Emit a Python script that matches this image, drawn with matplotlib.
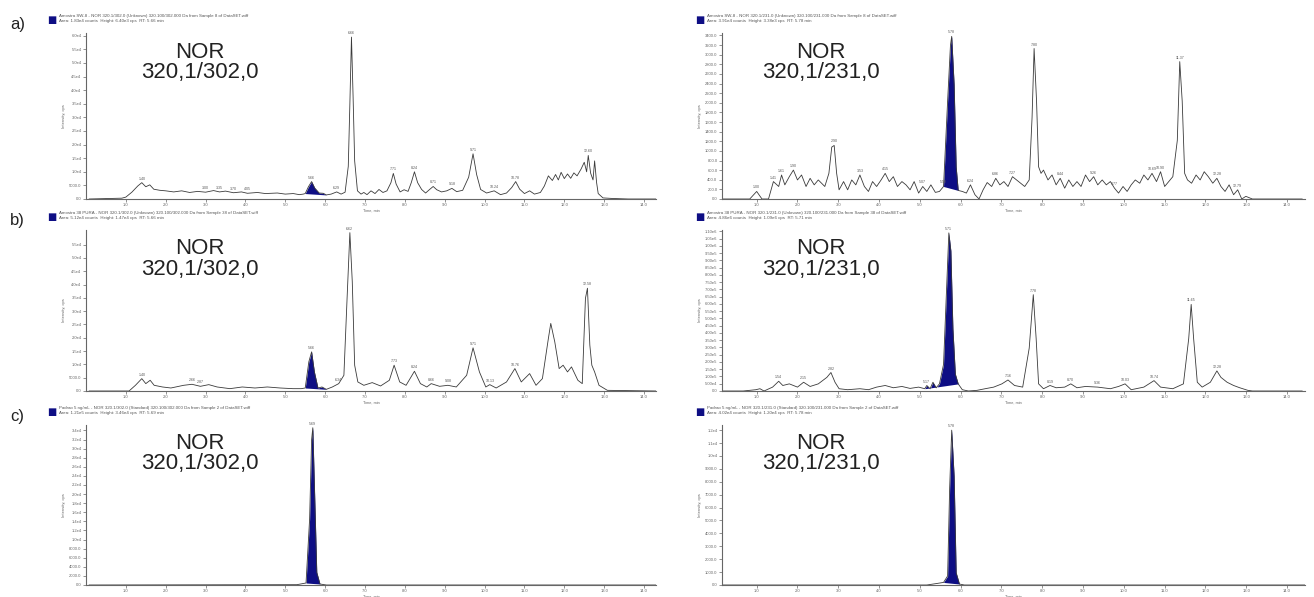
import numpy as np
import matplotlib
matplotlib.use("Agg")
import matplotlib.pyplot as plt

plt.rcParams['font.family'] = ['Liberation Sans', 'DejaVu Sans']

# ---- traces: (time in min, intensity in cps) ----
a_left = [(0.08, 0), (0.90, 300), (1.00, 700), (1.15, 2500), (1.30, 4800), (1.40, 6000),
          (1.50, 4500), (1.60, 5200), (1.70, 3600), (1.85, 3200), (2.00, 3000), (2.20, 2600),
          (2.40, 3000), (2.60, 2400), (2.80, 2800), (3.00, 2500), (3.20, 3100), (3.35, 2600),
          (3.50, 2900), (3.70, 2300), (3.90, 2600), (4.05, 2100), (4.30, 2400), (4.50, 2000),
          (4.80, 2200), (5.00, 1800), (5.20, 2000), (5.35, 1600), (5.45, 1800), (5.50, 2000),
          (5.58, 4500), (5.66, 6400), (5.74, 4000), (5.85, 2200), (5.95, 2100), (6.03, 1500),
          (6.15, 1800), (6.29, 2600), (6.40, 1800), (6.50, 2500), (6.58, 12000), (6.62, 35000),
          (6.66, 59500), (6.70, 38000), (6.74, 14000), (6.81, 3000), (6.90, 1800), (6.97, 2400),
          (7.05, 1600), (7.15, 3000), (7.25, 2000), (7.35, 3500), (7.45, 2400), (7.55, 3000),
          (7.65, 6000), (7.71, 9400), (7.78, 5500), (7.88, 2600), (7.98, 3400), (8.08, 2800),
          (8.16, 6000), (8.24, 10000), (8.32, 6000), (8.42, 3500), (8.52, 2200), (8.62, 3500),
          (8.71, 4600), (8.80, 3400), (8.92, 2600), (9.05, 3000), (9.18, 3900), (9.30, 2700),
          (9.45, 3200), (9.60, 8000), (9.71, 16600), (9.80, 9000), (9.90, 3500), (10.05, 2200),
          (10.24, 3000), (10.40, 1600), (10.55, 2200), (10.68, 4200), (10.78, 6400), (10.88, 3600),
          (11.00, 2000), (11.13, 3000), (11.25, 1800), (11.40, 2400), (11.50, 4800), (11.60, 8500),
          (11.70, 6800), (11.78, 9000), (11.85, 7000), (11.92, 9800), (12.00, 7500), (12.08, 9200),
          (12.16, 7600), (12.24, 9600), (12.32, 8500), (12.42, 11000), (12.50, 13500), (12.56, 10000),
          (12.60, 16000), (12.66, 9500), (12.72, 7000), (12.76, 14000), (12.81, 6000), (12.85, 2000),
          (12.97, 400), (13.20, 200), (13.60, 0), (14.30, 0)]

a_right = [(0.16, 0), (0.67, 0), (0.83, 0), (1.00, 157), (1.13, 0), (1.29, 0), (1.41, 362),
           (1.54, 260), (1.61, 499), (1.69, 294), (1.80, 464), (1.90, 601), (2.00, 396), (2.10, 499),
           (2.21, 260), (2.31, 430), (2.41, 294), (2.51, 396), (2.67, 260), (2.77, 533), (2.84, 1079),
           (2.90, 1113), (2.96, 533), (3.02, 191), (3.13, 362), (3.23, 191), (3.33, 396), (3.43, 294),
           (3.53, 499), (3.64, 260), (3.74, 157), (3.84, 362), (3.94, 260), (4.05, 396), (4.15, 533),
           (4.25, 362), (4.35, 464), (4.45, 260), (4.56, 362), (4.66, 294), (4.76, 191), (4.86, 362),
           (4.97, 123), (5.07, 260), (5.17, 157), (5.27, 294), (5.38, 137), (5.48, 157), (5.58, 260),
           (5.68, 2035), (5.75, 3196), (5.78, 3380), (5.84, 2377), (5.89, 669), (5.94, 178),
           (6.04, 157), (6.14, 123), (6.24, 294), (6.35, 89), (6.45, 0), (6.55, 191), (6.65, 342),
           (6.76, 260), (6.86, 430), (6.96, 294), (7.06, 362), (7.16, 260), (7.27, 464), (7.37, 396),
           (7.47, 328), (7.57, 260), (7.68, 396), (7.75, 1694), (7.80, 3128), (7.86, 2035),
           (7.91, 669), (7.97, 533), (8.03, 601), (8.14, 396), (8.24, 499), (8.34, 294), (8.44, 430),
           (8.55, 225), (8.65, 396), (8.75, 260), (8.85, 362), (8.95, 260), (9.06, 499), (9.16, 362),
           (9.26, 464), (9.36, 294), (9.47, 396), (9.57, 294), (9.67, 362), (9.77, 225), (9.87, 123),
           (9.98, 260), (10.08, 157), (10.18, 294), (10.28, 396), (10.39, 328), (10.49, 499),
           (10.59, 396), (10.69, 533), (10.80, 362), (10.90, 567), (11.00, 260), (11.10, 362),
           (11.20, 464), (11.31, 1216), (11.37, 2855), (11.43, 2035), (11.49, 533), (11.56, 396),
           (11.66, 328), (11.77, 499), (11.87, 396), (11.97, 567), (12.07, 464), (12.18, 328),
           (12.28, 430), (12.38, 260), (12.48, 157), (12.58, 294), (12.69, 89), (12.79, 191),
           (12.89, 0), (12.99, 55), (13.15, 0), (14.37, 0)]

b_left = [(0.08, 0), (1.08, 0), (1.24, 2140), (1.40, 4650), (1.50, 2770), (1.61, 4030), (1.71, 2140),
          (1.92, 1510), (2.13, 1130), (2.45, 2140), (2.66, 2520), (2.87, 1760), (3.08, 2390),
          (3.29, 1510), (3.61, 880), (3.92, 1510), (4.24, 1130), (4.55, 1510), (4.87, 1130),
          (5.19, 880), (5.40, 880), (5.50, 1130), (5.59, 10950), (5.66, 14720), (5.73, 7170),
          (5.82, 1130), (5.92, 1510), (6.03, 630), (6.18, 1510), (6.34, 2770), (6.47, 5910),
          (6.55, 34850), (6.62, 59500), (6.68, 41140), (6.74, 9690), (6.82, 3400), (6.97, 2140),
          (7.18, 3150), (7.39, 1890), (7.61, 4030), (7.73, 9690), (7.87, 3400), (8.03, 2140),
          (8.24, 7420), (8.39, 2770), (8.55, 1510), (8.66, 2770), (8.87, 1760), (9.08, 2140),
          (9.29, 1510), (9.55, 5910), (9.71, 16230), (9.87, 7170), (10.03, 1510), (10.13, 2390),
          (10.29, 1130), (10.55, 3400), (10.76, 8430), (10.92, 3400), (11.13, 6540), (11.29, 2140),
          (11.45, 4650), (11.60, 19750), (11.66, 25410), (11.76, 18490), (11.87, 8430), (11.97, 9690),
          (12.08, 7170), (12.18, 9060), (12.34, 4030), (12.45, 2770), (12.53, 34850), (12.58, 38620),
          (12.64, 17230), (12.69, 9690), (12.76, 7170), (12.87, 2140), (13.08, 250), (14.30, 0)]

b_right = [(0.16, 0), (0.67, 0), (0.98, 8900), (1.08, 15700), (1.18, 0), (1.39, 26800), (1.54, 67100),
           (1.64, 38000), (1.80, 49200), (2.00, 26800), (2.15, 60400), (2.31, 31300), (2.51, 49200),
           (2.72, 93900), (2.82, 127500), (2.92, 60400), (3.02, 15700), (3.23, 8900), (3.53, 15700),
           (3.74, 8900), (3.94, 26800), (4.15, 38000), (4.35, 22400), (4.56, 31300), (4.76, 17900),
           (4.97, 26800), (5.12, 15700), (5.17, 38000), (5.25, 15700), (5.32, 60400), (5.40, 22400),
           (5.48, 49200), (5.58, 183400), (5.66, 742400), (5.71, 1090000), (5.76, 966000),
           (5.81, 429800), (5.87, 116300), (5.94, 49200), (6.04, 8900), (6.19, 0), (6.40, 4500),
           (6.60, 15700), (6.81, 26800), (7.01, 49200), (7.16, 76000), (7.32, 38000), (7.52, 26800),
           (7.68, 295200), (7.78, 664100), (7.85, 362200), (7.91, 49200), (8.03, 15700), (8.19, 38000),
           (8.34, 22400), (8.55, 26800), (8.70, 49200), (8.85, 22400), (9.06, 31300), (9.36, 26800),
           (9.67, 15700), (9.87, 31300), (10.03, 49200), (10.18, 8900), (10.49, 26800), (10.74, 71500),
           (10.90, 26800), (11.20, 15700), (11.46, 49200), (11.59, 362200), (11.65, 597000),
           (11.71, 362200), (11.80, 60400), (11.92, 26800), (12.12, 60400), (12.28, 138600),
           (12.38, 93900), (12.53, 60400), (12.69, 38000), (12.84, 22400), (13.04, 4500), (13.15, 0),
           (14.37, 0)]

c_left = [(0.08, 0), (5.29, 70), (5.52, 440), (5.61, 14500), (5.66, 32000), (5.69, 34600),
          (5.73, 21960), (5.79, 2780), (5.87, 220), (6.03, 0), (14.30, 0)]

c_right = [(0.16, 0), (5.17, 0), (5.38, 100), (5.58, 200), (5.68, 700), (5.73, 7500), (5.78, 12000),
           (5.84, 8430), (5.89, 950), (5.97, 75), (6.09, 0), (14.44, 0)]

# integrated NOR window (start, end) in min
a_left_fill, a_right_fill = (5.50, 6.03), (5.58, 5.94)
b_left_fill, b_right_fill = (5.50, 6.03), (5.12, 5.94)
c_left_fill, c_right_fill = (5.52, 5.87), (5.58, 5.97)

# retention times printed above peaks
a_left_peaks = [1.40, 3.00, 3.35, 3.70, 4.05, 5.66, 6.29, 6.66, 7.71, 8.24, 8.71, 9.18, 9.71,
                10.24, 10.78, 12.60]
a_right_peaks = [1.00, 1.41, 1.61, 1.90, 2.90, 3.53, 4.15, 5.07, 5.58, 5.78, 6.24, 6.86, 7.27,
                 7.80, 8.44, 9.26, 9.77, 10.69, 10.90, 11.37, 12.28, 12.79]
b_left_peaks = [1.40, 2.66, 2.87, 5.66, 6.34, 6.62, 7.73, 8.24, 8.66, 9.08, 9.71, 10.13, 10.76,
                12.58]
b_right_peaks = [1.54, 2.15, 2.82, 5.17, 5.71, 7.16, 7.78, 8.19, 8.70, 9.36, 10.03, 10.74, 11.65,
                 12.28]
c_left_peaks = [5.69]
c_right_peaks = [5.78]

x_ticks = list(range(1, 15))
a_left_yticks = list(range(0, 60001, 5000))
a_right_yticks = list(range(0, 3401, 200))
b_left_yticks = list(range(0, 55001, 5000))
b_right_yticks = list(range(0, 1100001, 50000))
c_left_yticks = list(range(0, 34001, 2000))
c_right_yticks = list(range(0, 12001, 1000))

transitions = ["NOR\n320,1/302,0", "NOR\n320,1/231,0"]
row_letters = ["a)", "b)", "c)"]
headers = [
    ["Amostra SW-8 - NOR 320.1/302.0 (Unknown) 320.100/302.000 Da from Sample 8 of DataSET.wiff",
     "Area: 1.83e4 counts  Height: 6.40e3 cps  RT: 5.66 min"],
    ["Amostra SW-8 - NOR 320.1/231.0 (Unknown) 320.100/231.000 Da from Sample 8 of DataSET.wiff",
     "Area: 3.91e4 counts  Height: 3.38e3 cps  RT: 5.78 min"],
    ["Amostra 38 PURA - NOR 320.1/302.0 (Unknown) 320.100/302.000 Da from Sample 38 of DataSET.wiff",
     "Area: 5.12e4 counts  Height: 1.47e4 cps  RT: 5.66 min"],
    ["Amostra 38 PURA - NOR 320.1/231.0 (Unknown) 320.100/231.000 Da from Sample 38 of DataSET.wiff",
     "Area: 4.86e6 counts  Height: 1.09e6 cps  RT: 5.71 min"],
    ["Padrao 5 ng/mL - NOR 320.1/302.0 (Standard) 320.100/302.000 Da from Sample 2 of DataSET.wiff",
     "Area: 1.21e5 counts  Height: 3.46e4 cps  RT: 5.69 min"],
    ["Padrao 5 ng/mL - NOR 320.1/231.0 (Standard) 320.100/231.000 Da from Sample 2 of DataSET.wiff",
     "Area: 4.02e4 counts  Height: 1.20e4 cps  RT: 5.78 min"],
]

BLUE = '#0e0e84'
W, H = 1314, 597


def cps_label(v, digits=1):
    if v == 0:
        return "0.0"
    if v >= 1e4:
        mant, exp = f"{v:.{digits}e}".split("e")
        return f"{mant}e{int(exp)}"
    return f"{v:.1f}"


fig = plt.figure(figsize=(W / 100, H / 100), dpi=100)

# pixel boxes: (left, right) per column, (top, bottom) per row
cols = [(86, 656, (0.0, 14.3)), (722, 1305, (0.15, 14.44))]
rows = [(33, 199), (230, 391), (425, 585)]

panels = [
    (a_left, a_left_fill, a_left_peaks, a_left_yticks, 61000, 1),
    (a_right, a_right_fill, a_right_peaks, a_right_yticks, 3450, 1),
    (b_left, b_left_fill, b_left_peaks, b_left_yticks, 60500, 1),
    (b_right, b_right_fill, b_right_peaks, b_right_yticks, 1110000, 2),
    (c_left, c_left_fill, c_left_peaks, c_left_yticks, 35200, 1),
    (c_right, c_right_fill, c_right_peaks, c_right_yticks, 12400, 1),
]

for k, (trace, win, peaks, yticks, ytop, dig) in enumerate(panels):
    r, c = divmod(k, 2)
    x0, x1, xlim = cols[c]
    y0, y1 = rows[r]
    ax = fig.add_axes([x0 / W, 1 - y1 / H, (x1 - x0) / W, (y1 - y0) / H])
    t = np.array([p[0] for p in trace])
    v = np.array([p[1] for p in trace])
    ax.plot(t, v, color='#3a3a3a', lw=0.6)

    sel = (t >= win[0]) & (t <= win[1])
    ts, vs = t[sel], v[sel]
    base = np.interp(ts, [ts[0], ts[-1]], [vs[0], vs[-1]])
    ax.fill_between(ts, base, vs, color=BLUE, lw=0)

    for pk in peaks:
        ax.text(pk, np.interp(pk, t, v) + ytop * 0.012, f"{pk:.2f}", fontsize=2.6,
                ha='center', va='bottom', color='#555555')

    ax.set_xlim(*xlim)
    ax.set_ylim(0, ytop)
    ax.set_xticks(x_ticks)
    ax.set_xticklabels([f"{x:.1f}" for x in x_ticks])
    ax.set_yticks(yticks)
    ax.set_yticklabels([cps_label(y, dig) for y in yticks])
    for s in ['top', 'right']:
        ax.spines[s].set_visible(False)
    for s in ['left', 'bottom']:
        ax.spines[s].set_color('#666666')
        ax.spines[s].set_linewidth(0.8)
    ax.tick_params(labelsize=3.0, length=2, width=0.5, pad=1.2, colors='#666666')
    ax.set_xlabel("Time, min", fontsize=2.8, labelpad=0.5, color='#666666')
    ax.set_ylabel("Intensity, cps", fontsize=3.0, labelpad=2, color='#666666')

    ax.text(0.2 if c == 0 else 0.17, 0.82, transitions[c], transform=ax.transAxes,
            ha='center', va='center', fontsize=16, linespacing=0.95, color='#222222')

    # header above each chromatogram
    hx = 47 if c == 0 else 695
    hy = y0 - 17
    fig.text(hx / W, 1 - (hy + 4) / H, "\u25a0", color=BLUE, fontsize=7,
             va='center', ha='left', family='DejaVu Sans')
    fig.text((hx + 12) / W, 1 - hy / H, headers[k][0], fontsize=3.2, va='center',
             ha='left', color='#555555')
    fig.text((hx + 12) / W, 1 - (hy + 5) / H, headers[k][1], fontsize=3.2, va='center',
             ha='left', color='#555555')

for r, letter in enumerate(row_letters):
    fig.text(10 / W, 1 - (rows[r][0] - 9) / H, letter, fontsize=12, va='center', ha='left',
             color='#222222')

fig.savefig("out.png", dpi=100)
